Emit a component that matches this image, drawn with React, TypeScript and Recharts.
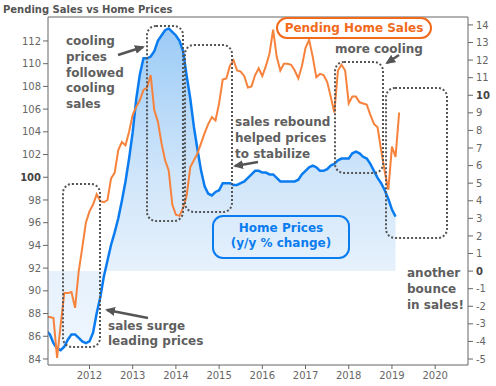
import React from "react";
import { ComposedChart, Area, Line, XAxis, YAxis, ReferenceLine } from "recharts";

// monthly, starting Jan 2011
const startYear = 2011;
const yearTicks = [2012, 2013, 2014, 2015, 2016, 2017, 2018, 2019, 2020];
const salesTicks = [84, 86, 88, 90, 92, 94, 96, 98, 100, 102, 104, 106, 108, 110, 112];
const priceTicks = [-5, -4, -3, -2, -1, 0, 1, 2, 3, 4, 5, 6, 7, 8, 9, 10, 11, 12, 13, 14];

// Pending Home Sales index (left axis)
const pendingSales = [
  87.7, 87.7, 87.6, 84.1, 87.0, 89.8, 89.8, 89.9, 88.5, 91.7, 93.8, 96.0,
  97.0, 97.6, 98.5, 97.9, 97.8, 98.0, 99.9, 100.4, 102.4, 103.1, 102.8, 104.0,
  105.5, 106.2, 106.8, 107.7, 107.9, 109.0, 105.9, 104.9, 103.0, 101.5, 100.6, 97.6,
  96.7, 96.6, 97.3, 98.4, 100.9, 101.5, 102.1, 103.0, 103.9, 104.7, 105.3, 105.0,
  106.5, 108.6, 108.7, 109.8, 110.3, 109.4, 109.3, 108.9, 107.9, 108.0, 109.0, 109.6,
  108.9, 109.8, 110.9, 113.0, 110.6, 109.4, 110.0, 110.0, 109.9, 109.4, 108.7, 109.8,
  111.4, 112.1, 110.6, 108.8, 109.1, 109.0, 108.4, 107.1, 105.7, 109.4, 109.9, 109.4,
  106.5, 107.1, 107.1, 106.6, 106.5, 106.4, 105.5, 104.7, 104.4, 102.4, 100.5, 98.9,
  102.7, 101.8, 105.7,
];

// Home prices, y/y % change (right axis)
const homePrices = [
  -3.4, -3.6, -4.1, -4.4, -4.5, -4.3, -3.9, -3.6, -3.6, -3.8, -4.0, -4.1,
  -4.0, -3.5, -2.4, -1.5, -0.3, 0.6, 1.5, 2.2, 3.0, 4.0, 5.1, 6.4,
  7.9, 9.8, 11.2, 12.1, 12.1, 12.2, 12.5, 13.1, 13.4, 13.7, 13.8, 13.6,
  13.4, 13.1, 12.5, 11.1, 9.8, 8.2, 6.9, 5.7, 4.8, 4.4, 4.3, 4.5,
  4.6, 5.0, 5.0, 5.0, 4.9, 4.9, 5.0, 5.1, 5.3, 5.5, 5.7, 5.7,
  5.6, 5.6, 5.5, 5.5, 5.3, 5.1, 5.1, 5.1, 5.1, 5.1, 5.2, 5.5,
  5.7, 5.9, 6.0, 5.9, 5.7, 5.7, 5.8, 6.0, 6.1, 6.3, 6.4, 6.4,
  6.4, 6.7, 6.8, 6.7, 6.5, 6.4, 6.1, 5.7, 5.3, 5.0, 4.6, 4.1,
  3.5, 3.1,
];

const rows = pendingSales.map((s, i) => ({
  t: startYear + i / 12,
  sales: s,
  prices: i < homePrices.length ? homePrices[i] : null,
}));

const leftDomain = [83.47, 114.11];
const rightDomain = [-5.34, 14.45];

const FONT = "'DejaVu Sans', Verdana, sans-serif";
const GRAY = "#5f5f5f";
const AXIS = "#666";

function LeftTick(props: any) {
  const { x, y, payload } = props;
  const bold = payload.value === 100;
  return (
    <text x={x} y={y} dy={3.6} textAnchor="end" fontSize={10} fontFamily={FONT}
      fill={bold ? "#444" : AXIS} fontWeight={bold ? "bold" : "normal"}>
      {payload.value}
    </text>
  );
}

function RightTick(props: any) {
  const { x, y, payload } = props;
  const bold = payload.value === 10 || payload.value === 0;
  return (
    <text x={x} y={y} dy={3.6} textAnchor="start" fontSize={10} fontFamily={FONT}
      fill={bold ? "#444" : AXIS} fontWeight={bold ? "bold" : "normal"}>
      {payload.value}
    </text>
  );
}

// annotation boxes [x, y, w, h]
const boxes = [
  [63, 184, 37, 163],
  [147, 26, 36, 195],
  [185, 45, 47, 167],
  [335, 62, 48, 111],
  [386, 88, 61, 150],
];

const arrows = [
  [118, 55, 143, 47],
  [258, 162, 235, 166],
  [399, 55, 387, 63],
  [148, 318, 107, 310],
];

function Lines({ x, y, lines, step = 15.8, anchor = "start", fill = GRAY }: any) {
  return (
    <text x={x} y={y} fontSize={12} fontWeight="bold" fontFamily={FONT} fill={fill} textAnchor={anchor}>
      {lines.map((l: string, i: number) => (
        <tspan key={i} x={x} y={y + i * step}>{l}</tspan>
      ))}
    </text>
  );
}

export default function App() {
  return (
    <div style={{ position: "absolute", left: 0, top: 0, width: 496, height: 386, background: "#fff", fontFamily: FONT }}>
      <ComposedChart width={496} height={386} data={rows} margin={{ top: 17, right: 0, bottom: 0, left: 0 }}>
        <defs>
          <linearGradient id="priceFill" x1="0" y1="0" x2="0" y2="1">
            <stop offset="0%" stopColor="#9ccbf7" />
            <stop offset="45%" stopColor="#cfe5fa" />
            <stop offset="75%" stopColor="#e6f1fc" />
            <stop offset="100%" stopColor="#eef6fe" />
          </linearGradient>
        </defs>
        <XAxis
          dataKey="t"
          type="number"
          domain={[2011.04, 2020.76]}
          allowDataOverflow
          ticks={yearTicks}
          interval={0}
          height={21}
          tickSize={4}
          tickMargin={3}
          tick={{ fontSize: 10, fill: AXIS, fontFamily: FONT }}
          axisLine={{ stroke: AXIS }}
          tickLine={{ stroke: AXIS }}
        />
        <YAxis
          yAxisId="left"
          orientation="left"
          width={48}
          domain={leftDomain}
          allowDataOverflow
          ticks={salesTicks}
          interval={0}
          tickSize={5}
          tickMargin={2}
          tick={<LeftTick />}
          axisLine={{ stroke: AXIS }}
          tickLine={{ stroke: AXIS }}
        />
        <YAxis
          yAxisId="right"
          orientation="right"
          width={28}
          domain={rightDomain}
          allowDataOverflow
          ticks={priceTicks}
          interval={0}
          tickSize={5}
          tickMargin={3}
          tick={<RightTick />}
          axisLine={{ stroke: AXIS }}
          tickLine={{ stroke: AXIS }}
        />
        <ReferenceLine yAxisId="left" y={leftDomain[1]} stroke={AXIS} />
        <Area
          yAxisId="right"
          type="linear"
          dataKey="prices"
          baseValue={0}
          stroke="#0a7cf0"
          strokeWidth={2.5}
          fill="url(#priceFill)"
          fillOpacity={1}
          dot={false}
          activeDot={false}
          isAnimationActive={false}
        />
        <Line
          yAxisId="left"
          type="linear"
          dataKey="sales"
          stroke="#f7823c"
          strokeWidth={2}
          dot={false}
          activeDot={false}
          isAnimationActive={false}
        />
      </ComposedChart>

      <svg width={496} height={386} style={{ position: "absolute", left: 0, top: 0, pointerEvents: "none" }}>
        <defs>
          <marker id="head" markerWidth="10" markerHeight="9" refX="8" refY="4.5" orient="auto" markerUnits="userSpaceOnUse">
            <path d="M0,0 L10,4.5 L0,9 z" fill="#555" />
          </marker>
        </defs>
        <text x={3} y={13} fontSize={10} fontWeight="bold" fontFamily={FONT} fill="#555">
          Pending Sales vs Home Prices
        </text>

        {boxes.map(([x, y, w, h], i) => (
          <rect key={i} x={x} y={y} width={w} height={h} rx={9} fill="none"
            stroke="#555" strokeWidth={2} strokeDasharray="2 2" />
        ))}
        {arrows.map(([x1, y1, x2, y2], i) => (
          <line key={i} x1={x1} y1={y1} x2={x2} y2={y2} stroke="#555" strokeWidth={2.5} markerEnd="url(#head)" />
        ))}

        <Lines x={66} y={45} lines={["cooling", "prices", "followed", "cooling", "sales"]} />
        <Lines x={235} y={126} lines={["sales rebound", "helped prices", "to stabilize"]} />
        <Lines x={335} y={53} lines={["more cooling"]} />
        <Lines x={407} y={277} lines={["another", "bounce", "in sales!"]} />
        <Lines x={108} y={330} lines={["sales surge", "leading prices"]} step={15} />

        <rect x={277} y={18} width={154} height={20} rx={10} fill="#fff" stroke="#f26a1b" strokeWidth={2} />
        <Lines x={354} y={32} anchor="middle" fill="#f26a1b" lines={["Pending Home Sales"]} />

        <rect x={213} y={216} width={136} height={42} rx={10} fill="none" stroke="#0a7cf0" strokeWidth={2} />
        <Lines x={281} y={232} anchor="middle" fill="#0a7cf0" step={15} lines={["Home Prices", "(y/y % change)"]} />
      </svg>
    </div>
  );
}
